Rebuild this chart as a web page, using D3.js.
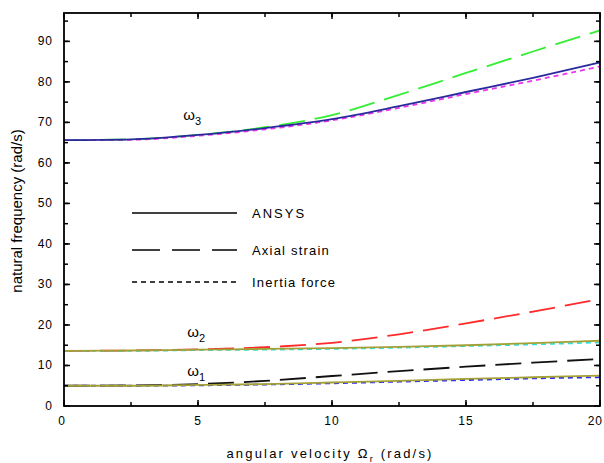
<!DOCTYPE html>
<html>
<head>
<meta charset="utf-8">
<script src="https://cdn.jsdelivr.net/npm/d3@7"></script>
<style>
  body { margin: 0; background: #fff; }
  svg text { font-family: "Liberation Sans", Arial, sans-serif; fill: #000; }
</style>
</head>
<body>
<div id="chart"></div>
<script>
// angular velocity samples (rad/s)
const omegaR = [0, 2.5, 5, 7.5, 10, 12.5, 15, 17.5, 20];

// mode 3
const w3Ansys   = [65.6, 65.8, 66.9, 68.6, 70.8, 74.0, 77.5, 81.0, 84.8];
const w3Axial   = [65.6, 65.8, 66.9, 68.8, 71.8, 76.8, 82.2, 87.5, 92.7];
const w3Inertia = [65.6, 65.7, 66.7, 68.3, 70.5, 73.6, 77.0, 80.3, 83.8];

// mode 2
const w2Ansys   = [13.6, 13.7, 13.9, 14.1, 14.3, 14.6, 15.0, 15.5, 16.1];
const w2Axial   = [13.6, 13.7, 14.0, 14.5, 15.6, 17.7, 20.4, 23.3, 26.4];
const w2Inertia = [13.6, 13.6, 13.8, 13.9, 14.1, 14.4, 14.8, 15.2, 15.7];

// mode 1
const w1Ansys   = [5.0, 5.0, 5.2, 5.4, 5.8, 6.2, 6.7, 7.1, 7.5];
const w1Axial   = [5.0, 5.1, 5.4, 6.2, 7.4, 8.6, 9.7, 10.7, 11.6];
const w1Inertia = [5.0, 5.0, 5.1, 5.3, 5.6, 6.0, 6.4, 6.8, 7.1];

const xTicks = [0, 5, 10, 15, 20];
const yTicks = [0, 10, 20, 30, 40, 50, 60, 70, 80, 90];

const legendNames = ["ANSYS", "Axial strain", "Inertia force"];

const width = 604, height = 463;

let svg = d3.select('#chart')
    .append('svg')
    .attr('width', width)
    .attr('height', height);

let xScale = d3.scaleLinear().domain([0, 20]).range([64, 600]);
let yScale = d3.scaleLinear().domain([0, 97]).range([406, 13]);

const dashLong = '26,10';
const dotted = '5,4';

//series definitions: values, colour, dash
let series = [
    { v: w3Axial, color: '#33ee33', dash: dashLong },
    { v: w3Inertia, color: '#ee33ee', dash: dotted },
    { v: w3Ansys, color: '#2a2a9c', dash: null },
    { v: w2Axial, color: '#ff2a2a', dash: dashLong },
    { v: w2Inertia, color: '#33dddd', dash: dotted },
    { v: w2Ansys, color: '#a3a035', dash: null },
    { v: w1Axial, color: '#111111', dash: dashLong },
    { v: w1Inertia, color: '#2a2aee', dash: dotted },
    { v: w1Ansys, color: '#a3a035', dash: null }
];

let line = d3.line()
    .x((d, i) => xScale(omegaR[i]))
    .y(d => yScale(d))
    .curve(d3.curveMonotoneX);

let curves = svg.append('g').attr('id', 'curves');

series.forEach(s => {
    curves.append('path')
        .datum(s.v)
        .attr('d', line)
        .attr('fill', 'none')
        .attr('stroke', s.color)
        .attr('stroke-width', 1.8)
        .attr('stroke-dasharray', s.dash);
});

//Axes with inward ticks
let minorX = d3.range(0, 20.01, 2.5);
let minorY = d3.range(0, 97, 5);

let axes = svg.append('g').attr('id', 'axes');

function addTicks(g, scale, vals, orient, len) {
    vals.forEach(v => {
        let p = scale(v);
        if (orient === 'bottom') g.append('line').attr('x1', p).attr('x2', p).attr('y1', 406).attr('y2', 406 - len);
        if (orient === 'top') g.append('line').attr('x1', p).attr('x2', p).attr('y1', 13).attr('y2', 13 + len);
        if (orient === 'left') g.append('line').attr('x1', 64).attr('x2', 64 + len).attr('y1', p).attr('y2', p);
        if (orient === 'right') g.append('line').attr('x1', 600).attr('x2', 600 - len).attr('y1', p).attr('y2', p);
    });
}

let tickG = axes.append('g').attr('stroke', '#000').attr('stroke-width', 1.5);
addTicks(tickG, xScale, minorX, 'bottom', 4);
addTicks(tickG, xScale, minorX, 'top', 4);
addTicks(tickG, xScale, xTicks, 'bottom', 6);
addTicks(tickG, xScale, xTicks, 'top', 6);
addTicks(tickG, yScale, minorY, 'left', 4);
addTicks(tickG, yScale, minorY, 'right', 4);
addTicks(tickG, yScale, yTicks, 'left', 6);
addTicks(tickG, yScale, yTicks, 'right', 6);

axes.append('rect')
    .attr('x', 64)
    .attr('y', 13)
    .attr('width', 536)
    .attr('height', 393)
    .attr('fill', 'none')
    .attr('stroke', '#000')
    .attr('stroke-width', 1.8);

//Tick labels (last one kept inside the window)
axes.selectAll('.xlab')
    .data(xTicks)
    .join('text')
    .attr('class', 'xlab')
    .attr('x', d => d === 20 ? 603 : xScale(d) - (d === 0 ? 2 : 0))
    .attr('y', 425)
    .attr('text-anchor', d => d === 20 ? 'end' : 'middle')
    .attr('font-size', '12px')
    .attr('letter-spacing', '1px')
    .text(d => d);

axes.selectAll('.ylab')
    .data(yTicks)
    .join('text')
    .attr('class', 'ylab')
    .attr('x', 53)
    .attr('y', d => yScale(d) + 4)
    .attr('text-anchor', 'end')
    .attr('font-size', '12px')
    .attr('letter-spacing', '1px')
    .text(d => d);

//Axis titles
let xt = svg.append('text')
    .attr('x', 330)
    .attr('y', 458)
    .attr('text-anchor', 'middle')
    .attr('font-size', '13px')
    .attr('letter-spacing', '2.2px');
xt.append('tspan').text('angular velocity Ω');
xt.append('tspan').attr('dy', 4).attr('font-size', '9px').text('r');
xt.append('tspan').attr('dy', -4).text(' (rad/s)');

svg.append('text')
    .attr('transform', 'translate(22, 211) rotate(-90)')
    .attr('text-anchor', 'middle')
    .attr('font-size', '15px')
    .text('natural frequency (rad/s)');

//Mode labels
let modeLabels = [
    { name: '3', x: 4.45, y: 70.6 },
    { name: '2', x: 4.6, y: 17.0 },
    { name: '1', x: 4.6, y: 7.5 }
];
modeLabels.forEach(m => {
    let t = svg.append('text')
        .attr('x', xScale(m.x))
        .attr('y', yScale(m.y))
        .attr('font-size', '15px');
    t.append('tspan').text('ω');
    t.append('tspan').attr('dy', 5).attr('font-size', '11px').text(m.name);
});

//Legend
let legend = svg.append('g').attr('id', 'legend');
let legendY = [213, 250, 282];
let legendDash = [null, '28,12', '5,4'];
legendNames.forEach((n, i) => {
    legend.append('line')
        .attr('x1', 132)
        .attr('x2', 237)
        .attr('y1', legendY[i])
        .attr('y2', legendY[i])
        .attr('stroke', '#000')
        .attr('stroke-width', 1.5)
        .attr('stroke-dasharray', legendDash[i]);
    legend.append('text')
        .attr('x', 252)
        .attr('y', legendY[i] + 5)
        .attr('font-size', '13px')
        .attr('letter-spacing', i === 0 ? '2px' : '1.2px')
        .text(n);
});
</script>
</body>
</html>
